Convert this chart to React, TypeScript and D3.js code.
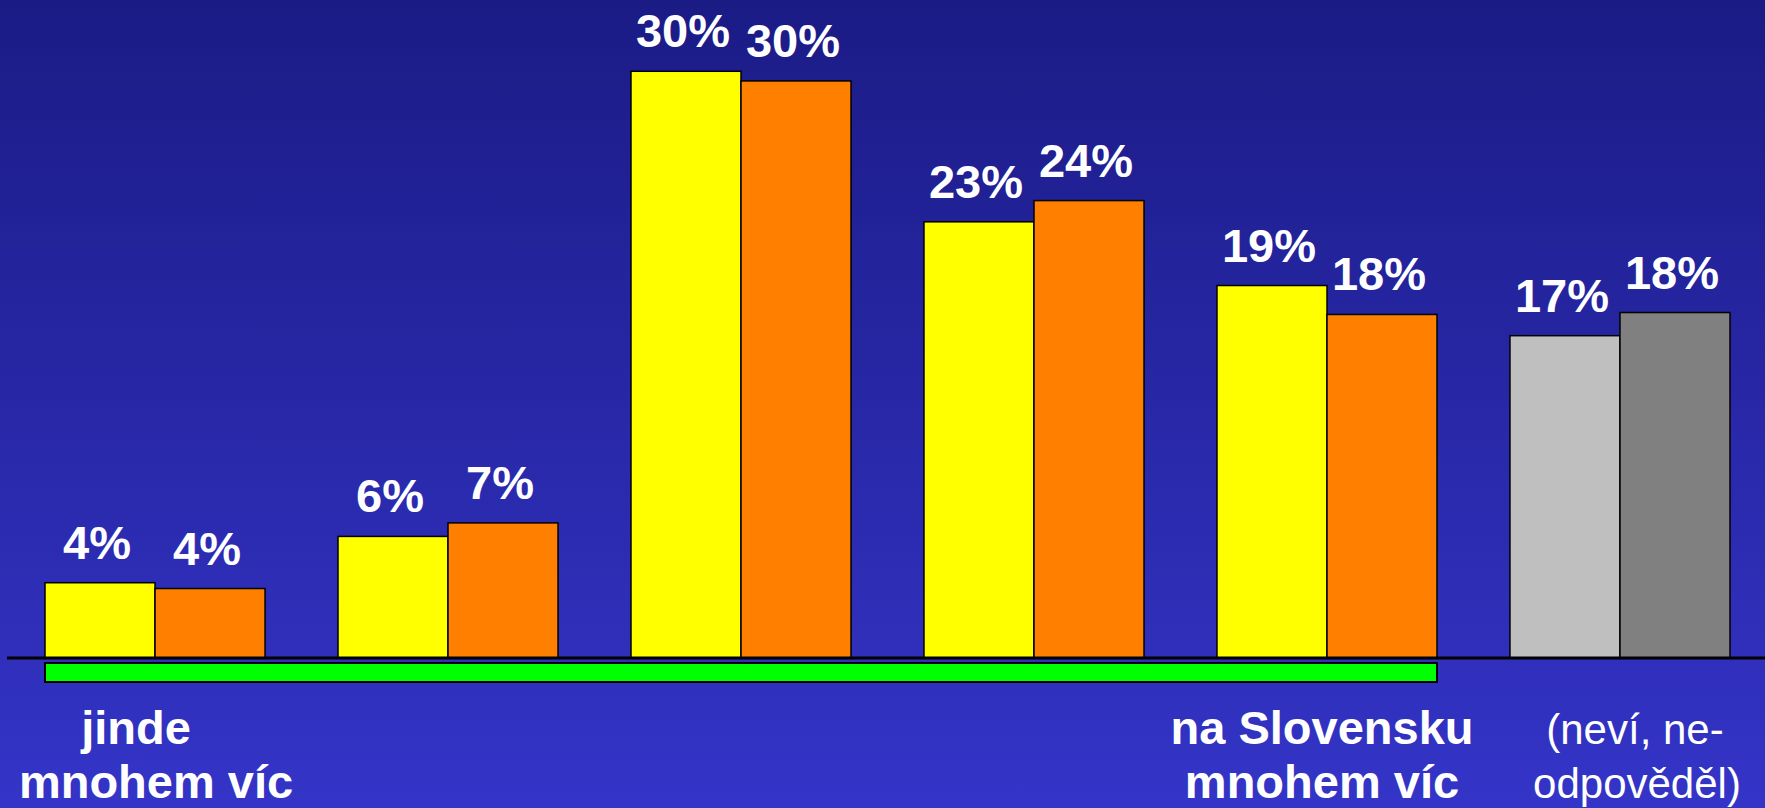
import * as d3 from 'd3'
import React, { useRef, useEffect } from 'react'

// groups along the x axis (only some of them carry a caption)
const groups = ['g1', 'g2', 'g3', 'g4', 'g5', 'g6']
const series = ['first', 'second']

// bar values in percent
const firstValues = [3.9, 6.3, 30.4, 22.6, 19.3, 16.7]
const secondValues = [3.6, 7.0, 29.9, 23.7, 17.8, 17.9]

// labels printed above the bars
const firstLabels = ['4%', '6%', '30%', '23%', '19%', '17%']
const secondLabels = ['4%', '7%', '30%', '24%', '18%', '18%']

// captions under the axis
const captionGroups = ['g1', 'g5', 'g6']
const captionLines = [
  ['jinde', 'mnohem víc'],
  ['na Slovensku', 'mnohem víc'],
  ['(neví, ne-', 'odpověděl)'],
]

const App = () => {
  const ref = useRef(null)

  useEffect(() => {
    draw()
  }, [])

  const draw = () => {
    const totalWidth = 1765
    const totalHeight = 808
    const baseline = 658
    const pxPerPct = 19.3

    const svg = d3.select(ref.current).attr('width', totalWidth).attr('height', totalHeight)
    svg.selectAll('*').remove()

    const defs = svg.append('defs')
    const grad = defs
      .append('linearGradient')
      .attr('id', 'bg')
      .attr('x1', 0)
      .attr('y1', 0)
      .attr('x2', 0)
      .attr('y2', 1)
    grad.append('stop').attr('offset', '0%').attr('stop-color', '#1b1b86')
    grad.append('stop').attr('offset', '100%').attr('stop-color', '#3434c8')

    svg.append('rect').attr('width', totalWidth).attr('height', totalHeight).attr('fill', 'url(#bg)')

    const x0 = d3.scaleBand().domain(groups).range([45, 1730]).paddingInner(0.249).paddingOuter(0)
    const x1 = d3.scaleBand().domain(series).range([0, x0.bandwidth()])
    const y = d3
      .scaleLinear()
      .domain([0, 35])
      .range([baseline, baseline - 35 * pxPerPct])

    const rows = groups.map((g, i) => ({
      group: g,
      values: [
        { key: 'first', value: firstValues[i], label: firstLabels[i] },
        { key: 'second', value: secondValues[i], label: secondLabels[i] },
      ],
    }))

    const fillFor = (g: string, key: string) => {
      if (g === 'g6') return key === 'first' ? '#bfbfbf' : '#808080'
      return key === 'first' ? '#ffff00' : '#ff8000'
    }

    const g = svg
      .selectAll('.group')
      .data(rows)
      .enter()
      .append('g')
      .attr('class', 'group')
      .attr('transform', (d: any) => `translate(${x0(d.group)},0)`)

    g.selectAll('rect')
      .data((d: any) => d.values.map((v: any) => ({ ...v, group: d.group })))
      .enter()
      .append('rect')
      .attr('x', (d: any) => x1(d.key))
      .attr('y', (d: any) => y(d.value))
      .attr('width', x1.bandwidth())
      .attr('height', (d: any) => baseline - y(d.value))
      .attr('fill', (d: any) => fillFor(d.group, d.key))
      .attr('stroke', '#000')
      .attr('stroke-width', 1.5)

    g.selectAll('text')
      .data((d: any) => d.values)
      .enter()
      .append('text')
      .attr('x', (d: any) => (x1(d.key) as number) + x1.bandwidth() / 2 - 3)
      .attr('y', (d: any) => y(d.value) - 24)
      .attr('text-anchor', 'middle')
      .attr('fill', '#fff')
      .style('font-family', '"Liberation Sans", Arial, sans-serif')
      .style('font-weight', 'bold')
      .style('font-size', '47px')
      .text((d: any) => d.label)

    // axis line
    svg
      .append('line')
      .attr('x1', 7)
      .attr('x2', totalWidth)
      .attr('y1', baseline)
      .attr('y2', baseline)
      .attr('stroke', '#000')
      .attr('stroke-width', 3)

    // green range bar under the answer groups
    const greenStart = x0('g1') as number
    const greenEnd = (x0('g5') as number) + x0.bandwidth()
    svg
      .append('rect')
      .attr('x', greenStart)
      .attr('y', 663)
      .attr('width', greenEnd - greenStart)
      .attr('height', 19)
      .attr('fill', '#00ff00')
      .attr('stroke', '#000')
      .attr('stroke-width', 2)

    // captions
    const captionShift = [
      [-19, 1],
      [-5, -5],
      [15, 17],
    ]
    captionGroups.forEach((cg, i) => {
      const cx = (x0(cg) as number) + x0.bandwidth() / 2
      const bold = cg !== 'g6'
      captionLines[i].forEach((line, j) => {
        svg
          .append('text')
          .attr('x', cx + captionShift[i][j])
          .attr('y', j === 0 ? 744 : 798)
          .attr('text-anchor', 'middle')
          .attr('fill', '#fff')
          .style('font-family', '"Liberation Sans", Arial, sans-serif')
          .style('font-weight', bold ? 'bold' : 'normal')
          .style('font-size', bold ? '47px' : '42px')
          .text(line)
      })
    })
  }

  return (
    <div>
      <style>{`body{margin:0}`}</style>
      <svg ref={ref} style={{ display: 'block' }} />
    </div>
  )
}

export default App
